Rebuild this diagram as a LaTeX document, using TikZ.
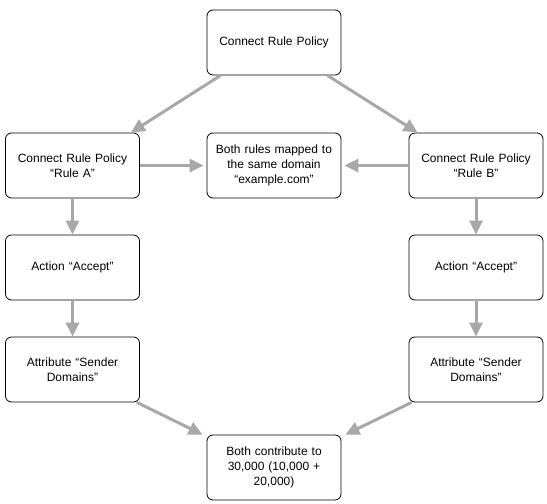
\documentclass[tikz,border=0pt]{standalone}
\usepackage{fontspec}
\setmainfont{Liberation Sans}
\usetikzlibrary{arrows.meta}
\definecolor{arrowgray}{HTML}{A8A8A8}

\begin{document}
\begin{tikzpicture}[x=1pt,y=-1pt,
    box/.style={draw,thick,rounded corners=6pt,minimum width=134pt,minimum height=65pt,
                text width=128pt,align=center,inner sep=0pt,font=\fontsize{12}{15}\selectfont},
    flow/.style={draw=arrowgray,line width=3pt,-{Triangle[length=14pt,width=13pt]}}]
    \useasboundingbox (0,0) rectangle (547,504);
    %the policy and both rules
    \node[box] (policy) at (274,42.5) {Connect Rule Policy};
    \node[box] (ruleA) at (72.5,165.5) {Connect Rule Policy\\``Rule A''};
    \node[box] (domain) at (274,165.5) {Both rules mapped to\\the same domain\\``example.com''};
    \node[box] (ruleB) at (476,165.5) {Connect Rule Policy\\``Rule B''};
    %actions and attributes
    \node[box] (actA) at (72.5,267.5) {Action ``Accept''};
    \node[box] (actB) at (476,267.5) {Action ``Accept''};
    \node[box] (attrA) at (72.5,369.5) {Attribute ``Sender\\Domains''};
    \node[box] (attrB) at (476,369.5) {Attribute ``Sender\\Domains''};
    \node[box] (total) at (274,467.5) {Both contribute to\\30,000 (10,000 +\\20,000)};
    %connectors
    \draw[flow] ([xshift=14pt]policy.south west) -- ([xshift=-9pt]ruleA.north east);
    \draw[flow] ([xshift=-14pt]policy.south east) -- ([xshift=9pt]ruleB.north west);
    \draw[flow] (ruleA.east) -- ([xshift=-3pt]domain.west);
    \draw[flow] (ruleB.west) -- ([xshift=3pt]domain.east);
    \draw[flow] (ruleA) -- (actA);
    \draw[flow] (actA) -- (attrA);
    \draw[flow] (ruleB) -- (actB);
    \draw[flow] (actB) -- (attrB);
    \draw[flow] ([xshift=-3pt]attrA.south east) -- ([xshift=-4pt]total.north west);
    \draw[flow] ([xshift=3pt]attrB.south west) -- ([xshift=4pt]total.north east);
\end{tikzpicture}
\end{document}
